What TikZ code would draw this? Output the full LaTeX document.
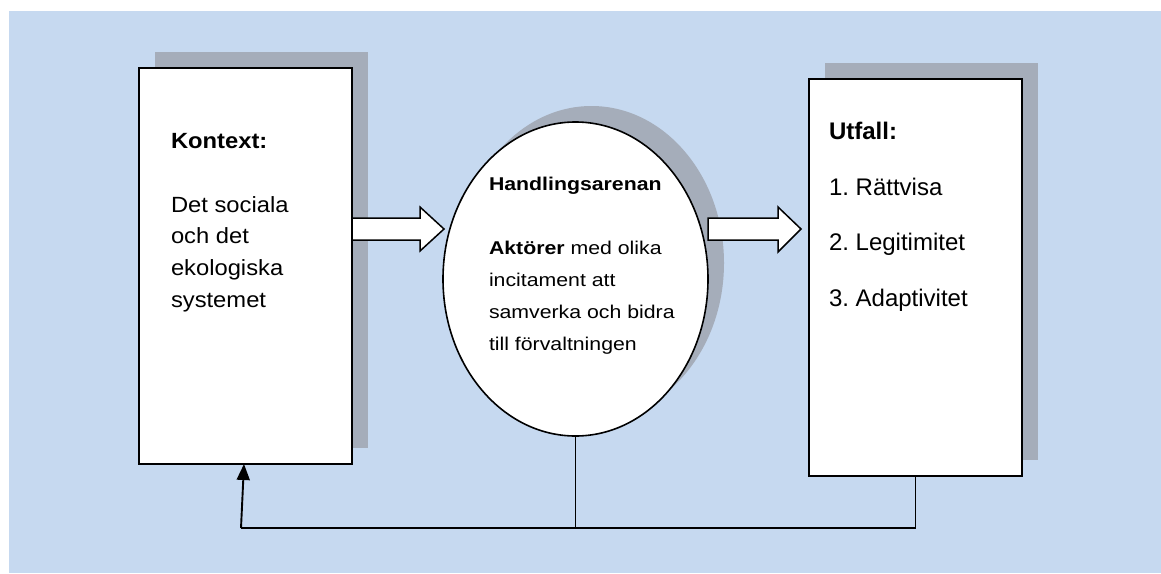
\documentclass[tikz,border=0pt]{standalone}
\usepackage{fontspec}
\setmainfont{Liberation Sans}
\newfontfamily\kfont[FakeStretch=1.08]{Liberation Sans}
\newfontfamily\efont[FakeStretch=1.15]{Liberation Sans}
\usetikzlibrary{shapes.geometric,shadows,arrows.meta,calc}
\definecolor{bgblue}{HTML}{C6D9F0}
\definecolor{shadowc}{HTML}{A5ADBA}
\frenchspacing
\begin{document}
\begin{tikzpicture}[x=1pt,y=-1pt,
  shad/.style={drop shadow={shadow xshift=16pt,shadow yshift=16pt,fill=shadowc,opacity=1}},
  box/.style={draw,line width=1.9pt,fill=white,inner sep=0pt,outer sep=0pt,shad},
  ell/.style={ellipse,draw,line width=1.6pt,fill=white,inner sep=0pt,outer sep=0pt,shad},
  txt/.style={anchor=base west,inner sep=0pt,outer sep=0pt},
  ktxt/.style={txt,font=\kfont\fontsize{22}{26}\selectfont},
  etxt/.style={txt,font=\efont\fontsize{18.5}{22}\selectfont},
  utxt/.style={txt,font=\fontsize{24}{28}\selectfont},
  barrow/.style={draw,line width=1.5pt,fill=white,line join=miter},
  fb/.style={line width=1.9pt}]
\useasboundingbox (0,0) rectangle (1161,573);
\fill[white] (0,0) rectangle (1161,573);
\fill[bgblue] (9,11) rectangle (1161,573);

% main shapes
\node[box,minimum width=213pt,minimum height=396pt] (L) at (245.5,266) {};
\node[ell,minimum width=265pt,minimum height=314pt] (E) at (575.5,279) {};
\node[box,minimum width=213pt,minimum height=397pt] (R) at (915.5,277.5) {};

% block arrows
\draw[barrow,shift={(L.east)}] (0,-48) -- (68,-48) -- (68,-59) -- (92,-37) -- (68,-15) -- (68,-26) -- (0,-26) -- cycle;
\draw[barrow,shift={(E.east)}] (0,-61) -- (70,-61) -- (70,-72) -- (93,-50) -- (70,-27) -- (70,-39) -- (0,-39) -- cycle;

% feedback
\coordinate (fbL) at (241,528);
\draw[fb] (R.south) -- (R.south |- fbL) -- (fbL);
\draw[line width=1.4pt] (E.south) -- (E.south |- fbL);
\draw[fb,-{Triangle[length=16pt,width=13pt]}] (fbL) -- ($(L.south)+(-1.5,0)$);

% texts
\node[ktxt] (k1) at (171,148) {\textbf{Kontext:}};
\node[ktxt] (k2) at (171,212) {Det sociala};
\node[ktxt] (k3) at (171,243.5) {och det};
\node[ktxt] (k4) at (171,275) {ekologiska};
\node[ktxt] (k5) at (171,307) {systemet};

\node[etxt] (h1) at (489,190.5) {\textbf{Handlingsarenan}};
\node[etxt] (h2) at (489,254.5) {\textbf{Aktörer} med olika};
\node[etxt] (h3) at (489,286.5) {incitament att};
\node[etxt] (h4) at (489,318.5) {samverka och bidra};
\node[etxt] (h5) at (489,350.5) {till förvaltningen};

\node[utxt] (u1) at (829,139) {\textbf{Utfall:}};
\node[utxt] (u2) at (829,195) {1. Rättvisa};
\node[utxt] (u3) at (829,250) {2. Legitimitet};
\node[utxt] (u4) at (829,306) {3. Adaptivitet};
\end{tikzpicture}
\end{document}
